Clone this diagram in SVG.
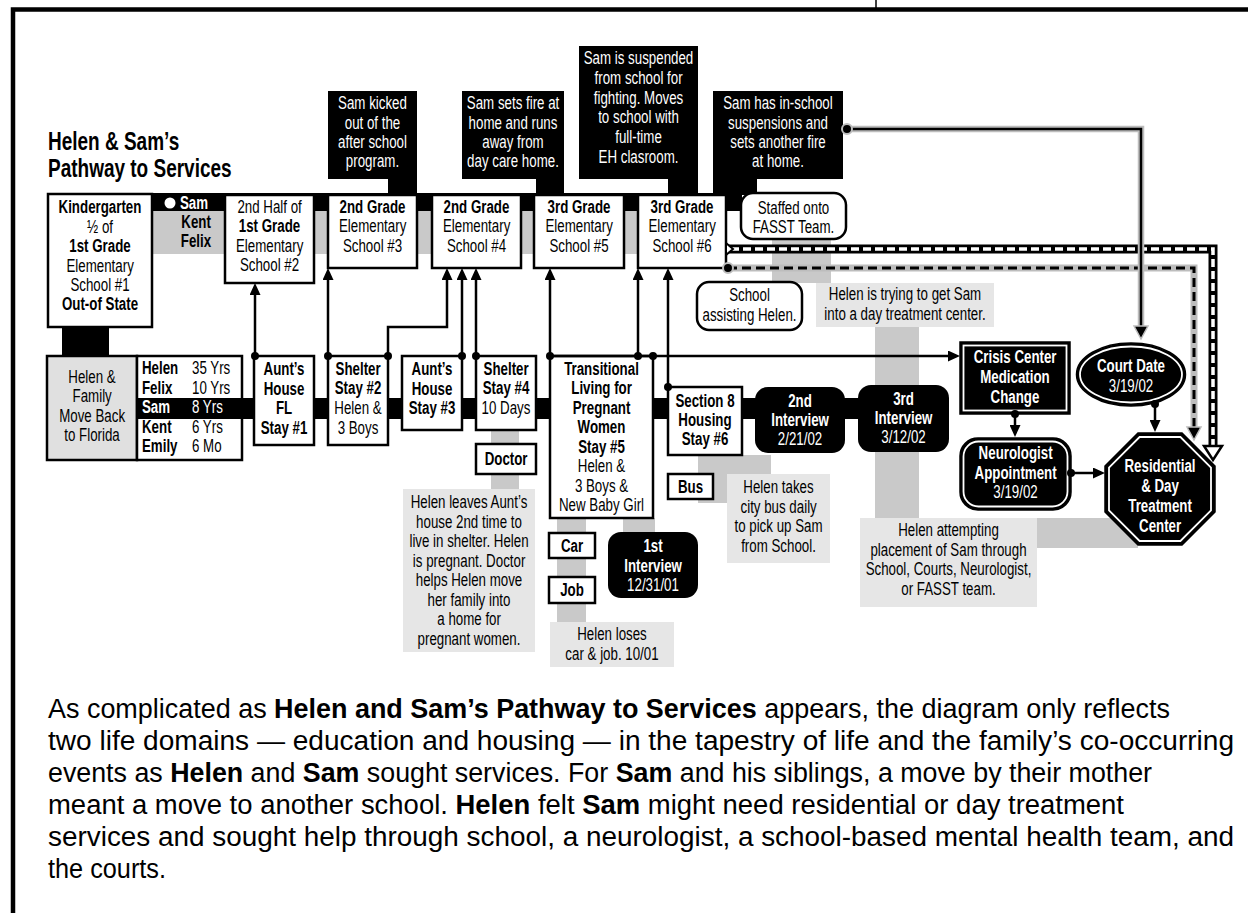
<svg xmlns="http://www.w3.org/2000/svg" width="1248" height="913" viewBox="0 0 1248 913">
<defs>
<style>
.bx{fill:#fff;stroke:#000;stroke-width:2.5}
.blk{fill:#000}
.gc{fill:#c9c9c9}
.gl{fill:#e6e6e6}
.ln{fill:none;stroke:#000;stroke-width:2.5}
text{font-family:"Liberation Sans",Arial,sans-serif;font-size:18.5px;text-anchor:middle;fill:#000;transform-box:fill-box;transform-origin:50% 50%;transform:scaleX(.72)}
.b{font-weight:bold}
.w{fill:#fff}
.s{text-anchor:start;transform-origin:0 50%}
.ttl{font-size:25px;font-weight:bold;transform:scaleX(.76)}
.p{font-size:27px;transform:none}
</style>
<marker id="ah" viewBox="0 0 12 11" markerWidth="12" markerHeight="11" refX="8" refY="5.5" orient="auto" markerUnits="userSpaceOnUse"><path d="M0,0 L12,5.5 L0,11 z" fill="#000"/></marker>
</defs>
<rect width="1248" height="913" fill="#fff"/>
<g id="frame">
<path d="M13,913 V9.5 H1248" fill="none" stroke="#000" stroke-width="4.5"/>
<line x1="876" y1="0" x2="876" y2="8" stroke="#000" stroke-width="1.5"/>
</g>
<g id="title">
<text class="ttl s" x="48" y="150">Helen &amp; Sam’s</text>
<text class="ttl s" x="48" y="177">Pathway to Services</text>
</g>
<g id="bands">
<rect class="gc" x="152" y="211" width="486" height="43"/>
<rect class="blk" x="152" y="193" width="590" height="18"/>
<rect class="blk" x="388" y="178" width="29" height="17"/>
<rect class="blk" x="536" y="178" width="28" height="17"/>
<rect class="blk" x="668" y="178" width="30" height="17"/>
<rect class="blk" x="713" y="178" width="44" height="17"/>
<rect class="blk" x="62" y="326" width="47" height="31"/>
<rect class="gc" x="491" y="430" width="28" height="59"/>
<rect class="gc" x="557" y="518" width="29" height="104"/>
<rect class="gc" x="623" y="518" width="32" height="15"/>
<rect class="gc" x="698" y="455" width="73" height="48"/>
<rect class="gc" x="875" y="327" width="44" height="191"/>
<rect class="gc" x="772" y="238" width="59" height="45"/>
<rect class="gc" x="1037" y="518" width="101" height="30"/>
</g>
<g id="sam-kent-felix">
<circle cx="170" cy="203" r="5.5" fill="#fff"/>
<text class="b w s" x="180" y="209">Sam</text>
<text class="b" x="196" y="228">Kent</text>
<text class="b" x="196" y="247">Felix</text>
</g>
<g id="event-kicked">
<rect class="blk" x="328" y="91" width="89" height="88"/>
<text class="w" x="372.5" y="109">Sam kicked</text>
<text class="w" x="372.5" y="129">out of the</text>
<text class="w" x="372.5" y="148">after school</text>
<text class="w" x="372.5" y="167">program.</text>
</g>
<g id="event-fire">
<rect class="blk" x="462" y="91" width="102" height="88"/>
<text class="w" x="513" y="109">Sam sets fire at</text>
<text class="w" x="513" y="129">home and runs</text>
<text class="w" x="513" y="148">away from</text>
<text class="w" x="513" y="167">day care home.</text>
</g>
<g id="event-suspended">
<rect class="blk" x="579" y="46" width="119" height="133"/>
<text class="w" x="638.5" y="64">Sam is suspended</text>
<text class="w" x="638.5" y="84">from school for</text>
<text class="w" x="638.5" y="104">fighting. Moves</text>
<text class="w" x="638.5" y="123">to school with</text>
<text class="w" x="638.5" y="143">full-time</text>
<text class="w" x="638.5" y="163">EH clasroom.</text>
</g>
<g id="event-inschool">
<rect class="blk" x="713" y="91" width="130" height="88"/>
<text class="w" x="778" y="109">Sam has in-school</text>
<text class="w" x="778" y="129">suspensions and</text>
<text class="w" x="778" y="148">sets another fire</text>
<text class="w" x="778" y="167">at home.</text>
</g>
<g id="school-k">
<rect class="bx" x="48" y="194" width="104" height="133"/>
<text class="b" x="100" y="213">Kindergarten</text>
<text x="100" y="233">½ of</text>
<text class="b" x="100" y="252">1st Grade</text>
<text x="100" y="272">Elementary</text>
<text x="100" y="291">School #1</text>
<text class="b" x="100" y="310">Out-of State</text>
</g>
<g id="school-2">
<rect class="bx" x="225" y="195" width="89" height="88"/>
<text x="269.5" y="213">2nd Half of</text>
<text class="b" x="269.5" y="232">1st Grade</text>
<text x="269.5" y="252">Elementary</text>
<text x="269.5" y="271">School #2</text>
</g>
<g id="school-3">
<rect class="bx" x="328" y="195" width="89" height="73"/>
<text class="b" x="372.5" y="213">2nd Grade</text>
<text x="372.5" y="232">Elementary</text>
<text x="372.5" y="252">School #3</text>
</g>
<g id="school-4">
<rect class="bx" x="432" y="195" width="89" height="73"/>
<text class="b" x="476.5" y="213">2nd Grade</text>
<text x="476.5" y="232">Elementary</text>
<text x="476.5" y="252">School #4</text>
</g>
<g id="school-5">
<rect class="bx" x="534" y="195" width="90" height="73"/>
<text class="b" x="579" y="213">3rd Grade</text>
<text x="579" y="232">Elementary</text>
<text x="579" y="252">School #5</text>
</g>
<g id="school-6">
<rect class="bx" x="638" y="195" width="88" height="73"/>
<text class="b" x="682" y="213">3rd Grade</text>
<text x="682" y="232">Elementary</text>
<text x="682" y="252">School #6</text>
</g>
<g id="staffed">
<rect class="bx" x="741" y="193" width="105" height="46" rx="12"/>
<text x="793.5" y="214">Staffed onto</text>
<text x="793.5" y="233">FASST Team.</text>
</g>
<g id="school-assisting">
<rect class="bx" x="697" y="282" width="105" height="48" rx="12"/>
<text x="749.5" y="301">School</text>
<text x="749.5" y="321">assisting Helen.</text>
</g>
<g id="note-trying">
<rect class="gl" x="816" y="283" width="178" height="44"/>
<text x="905" y="300">Helen is trying to get Sam</text>
<text x="905" y="320">into a day treatment center.</text>
</g>
<g id="family">
<rect x="47" y="356" width="90" height="104" fill="#e0e0e0" stroke="#000" stroke-width="2.5"/>
<text x="92" y="383">Helen &amp;</text>
<text x="92" y="402">Family</text>
<text x="92" y="422">Move Back</text>
<text x="92" y="441">to Florida</text>
</g>
<g id="members">
<rect class="bx" x="137" y="356" width="105" height="104"/>
</g>
<rect id="housing-band" class="blk" x="137" y="398" width="723" height="21"/>
<g id="members-text">
<text class="b s" x="142" y="374">Helen</text><text class="s" x="192" y="374">35 Yrs</text>
<text class="b s" x="142" y="394">Felix</text><text class="s" x="192" y="394">10 Yrs</text>
<text class="b s w" x="142" y="413">Sam</text><text class="s w" x="192" y="413">8 Yrs</text>
<text class="b s" x="142" y="433">Kent</text><text class="s" x="192" y="433">6 Yrs</text>
<text class="b s" x="142" y="452">Emily</text><text class="s" x="192" y="452">6 Mo</text>
</g>
<g id="stay-1">
<rect class="bx" x="254" y="356" width="60" height="89"/>
<text class="b" x="284" y="375">Aunt’s</text>
<text class="b" x="284" y="395">House</text>
<text class="b" x="284" y="414">FL</text>
<text class="b" x="284" y="434">Stay #1</text>
</g>
<g id="stay-2">
<rect class="bx" x="328" y="356" width="60" height="89"/>
<text class="b" x="358" y="375">Shelter</text>
<text class="b" x="358" y="394">Stay #2</text>
<text x="358" y="414">Helen &amp;</text>
<text x="358" y="434">3 Boys</text>
</g>
<g id="stay-3">
<rect class="bx" x="402" y="356" width="60" height="74"/>
<text class="b" x="432" y="375">Aunt’s</text>
<text class="b" x="432" y="395">House</text>
<text class="b" x="432" y="414">Stay #3</text>
</g>
<g id="stay-4">
<rect class="bx" x="476" y="356" width="60" height="74"/>
<text class="b" x="506" y="375">Shelter</text>
<text class="b" x="506" y="394">Stay #4</text>
<text x="506" y="414">10 Days</text>
</g>
<g id="stay-5">
<rect class="bx" x="550" y="356" width="103" height="162"/>
<text class="b" x="601.5" y="375">Transitional</text>
<text class="b" x="601.5" y="394">Living for</text>
<text class="b" x="601.5" y="414">Pregnant</text>
<text class="b" x="601.5" y="433">Women</text>
<text class="b" x="601.5" y="453">Stay #5</text>
<text x="601.5" y="472">Helen &amp;</text>
<text x="601.5" y="492">3 Boys &amp;</text>
<text x="601.5" y="511">New Baby Girl</text>
</g>
<g id="stay-6">
<rect class="bx" x="668" y="387" width="74" height="68"/>
<text class="b" x="705" y="407">Section 8</text>
<text class="b" x="705" y="426">Housing</text>
<text class="b" x="705" y="445">Stay #6</text>
</g>
<g id="interview-2">
<rect class="blk" x="755" y="387" width="90" height="66" rx="13"/>
<text class="b w" x="800" y="407">2nd</text>
<text class="b w" x="800" y="426">Interview</text>
<text class="w" x="800" y="445">2/21/02</text>
</g>
<g id="interview-3">
<rect class="blk" x="858" y="385" width="91" height="67" rx="13"/>
<text class="b w" x="903.5" y="405">3rd</text>
<text class="b w" x="903.5" y="424">Interview</text>
<text class="w" x="903.5" y="443">3/12/02</text>
</g>
<g id="interview-1">
<rect class="blk" x="608" y="532" width="90" height="66" rx="13"/>
<text class="b w" x="653" y="552">1st</text>
<text class="b w" x="653" y="572">Interview</text>
<text class="w" x="653" y="591">12/31/01</text>
</g>
<g id="doctor">
<rect class="bx" x="476" y="444" width="60" height="30"/>
<text class="b" x="506" y="465">Doctor</text>
</g>
<g id="car">
<rect class="bx" x="549" y="533" width="46" height="25"/>
<text class="b" x="572" y="552">Car</text>
</g>
<g id="job">
<rect class="bx" x="549" y="577" width="46" height="26"/>
<text class="b" x="572" y="596">Job</text>
</g>
<g id="bus">
<rect class="bx" x="668" y="474" width="45" height="25"/>
<text class="b" x="690.5" y="493">Bus</text>
</g>
<g id="note-leaves">
<rect class="gl" x="403" y="489" width="132" height="163"/>
<text x="469" y="508">Helen leaves Aunt’s</text>
<text x="469" y="528">house 2nd time to</text>
<text x="469" y="547">live in shelter. Helen</text>
<text x="469" y="567">is pregnant. Doctor</text>
<text x="469" y="586">helps Helen move</text>
<text x="469" y="606">her family into</text>
<text x="469" y="625">a home for</text>
<text x="469" y="645">pregnant women.</text>
</g>
<g id="note-loses">
<rect class="gl" x="550" y="622" width="124" height="45"/>
<text x="612" y="640">Helen loses</text>
<text x="612" y="660">car &amp; job. 10/01</text>
</g>
<g id="note-bus">
<rect class="gl" x="727" y="474" width="103" height="89"/>
<text x="778.5" y="493">Helen takes</text>
<text x="778.5" y="513">city bus daily</text>
<text x="778.5" y="532">to pick up Sam</text>
<text x="778.5" y="552">from School.</text>
</g>
<g id="note-attempting">
<rect class="gl" x="860" y="518" width="177" height="89"/>
<text x="948.5" y="536">Helen attempting</text>
<text x="948.5" y="556">placement of Sam through</text>
<text x="948.5" y="575">School, Courts, Neurologist,</text>
<text x="948.5" y="595">or FASST team.</text>
</g>
<g id="crisis">
<rect x="960" y="342" width="110" height="72" fill="#000" stroke="#000" stroke-width="1.5"/>
<rect x="963.5" y="345.5" width="103" height="65" fill="none" stroke="#fff" stroke-width="1.8"/>
<text class="b w" x="1015" y="363">Crisis Center</text>
<text class="b w" x="1015" y="383">Medication</text>
<text class="b w" x="1015" y="403">Change</text>
</g>
<g id="neurologist">
<rect x="960" y="438" width="111" height="72" rx="18" fill="#000" stroke="#000" stroke-width="1.5"/>
<rect x="963.5" y="441.5" width="104" height="65" rx="15" fill="none" stroke="#fff" stroke-width="1.8"/>
<text class="b w" x="1015.5" y="459">Neurologist</text>
<text class="b w" x="1015.5" y="479">Appointment</text>
<text class="w" x="1015.5" y="498">3/19/02</text>
</g>
<g id="court">
<ellipse cx="1131" cy="374.5" rx="54.5" ry="31.5" fill="#000" stroke="#000" stroke-width="1.5"/>
<ellipse cx="1131" cy="374.5" rx="51" ry="28" fill="none" stroke="#fff" stroke-width="1.8"/>
<text class="b w" x="1131" y="372">Court Date</text>
<text class="w" x="1131" y="392">3/19/02</text>
</g>
<g id="treatment-center">
<polygon points="1138,433 1182,433 1215,466 1215,512 1182,545 1138,545 1105,512 1105,466" fill="#000" stroke="#000" stroke-width="1.5"/>
<polygon points="1139.6,437 1180.4,437 1211,467.6 1211,510.4 1180.4,541 1139.6,541 1109,510.4 1109,467.6" fill="none" stroke="#fff" stroke-width="1.8"/>
<text class="b w" x="1160" y="472">Residential</text>
<text class="b w" x="1160" y="492">&amp; Day</text>
<text class="b w" x="1160" y="512">Treatment</text>
<text class="b w" x="1160" y="532">Center</text>
</g>
<g id="connectors">
<path class="ln" d="M255,356 V287" marker-end="url(#ah)"/>
<path class="ln" d="M328,356 V272" marker-end="url(#ah)"/>
<path class="ln" d="M388,356 V327 H447 V272" marker-end="url(#ah)"/>
<path class="ln" d="M462,356 V272" marker-end="url(#ah)"/>
<path class="ln" d="M476,356 V272" marker-end="url(#ah)"/>
<path class="ln" d="M550,356 V272" marker-end="url(#ah)"/>
<path class="ln" d="M638,356 V272" marker-end="url(#ah)"/>
<path class="ln" d="M668,387 V272" marker-end="url(#ah)"/>
<path class="ln" d="M550,356 H956" marker-end="url(#ah)"/>
<path class="ln" d="M1015,414 V433" marker-end="url(#ah)"/>
<path class="ln" d="M1071,473 H1101" marker-end="url(#ah)"/>
<path class="ln" d="M1155,404 V428" marker-end="url(#ah)"/>
<g fill="#000">
<circle cx="255" cy="356" r="4"/><circle cx="328" cy="356" r="4"/><circle cx="388" cy="356" r="4"/>
<circle cx="462" cy="356" r="4"/><circle cx="476" cy="356" r="4"/><circle cx="550" cy="356" r="4"/>
<circle cx="638" cy="356" r="4"/><circle cx="653" cy="356" r="4"/><circle cx="668" cy="387" r="4"/>
<circle cx="1015" cy="414" r="4"/><circle cx="1071" cy="473" r="4"/><circle cx="1155" cy="404" r="4"/>
</g>
<path d="M727,249 H1213 V446" fill="none" stroke="#000" stroke-width="9"/>
<path d="M731,249 H1213 V446" fill="none" stroke="#fff" stroke-width="3.5" stroke-dasharray="8 4"/>
<polygon points="726,243 733,249 726,255" fill="#fff" stroke="#000" stroke-width="2"/>
<polygon points="1204,446 1222,446 1213,460" fill="#fff" stroke="#000" stroke-width="2.5" stroke-linejoin="miter"/>
<path d="M728,268 H1194 V428" fill="none" stroke="#bdbdbd" stroke-width="7"/>
<path d="M728,268 H1194 V428" fill="none" stroke="#000" stroke-width="3" stroke-dasharray="9 5"/>
<polygon points="1187,427 1201,427 1194,440" fill="#000" stroke="#bdbdbd" stroke-width="1.5"/>
<circle cx="728" cy="268" r="5" fill="#000" stroke="#bdbdbd" stroke-width="2"/>
<path d="M847,129 H1141 V327" fill="none" stroke="#bdbdbd" stroke-width="6.5"/>
<path d="M847,129 H1141 V328" fill="none" stroke="#000" stroke-width="2.5"/>
<polygon points="1134,326 1148,326 1141,339" fill="#000" stroke="#bdbdbd" stroke-width="1.5"/>
<circle cx="847" cy="129" r="5" fill="#000" stroke="#bdbdbd" stroke-width="2"/>
</g>
<g id="caption">
<text class="s p" x="48" y="718" textLength="1122" lengthAdjust="spacingAndGlyphs">As complicated as <tspan class="b">Helen and Sam’s Pathway to Services</tspan> appears, the diagram only reflects</text>
<text class="s p" x="48" y="750" textLength="1186" lengthAdjust="spacingAndGlyphs">two life domains — education and housing — in the tapestry of life and the family’s co-occurring</text>
<text class="s p" x="48" y="782" textLength="1104" lengthAdjust="spacingAndGlyphs">events as <tspan class="b">Helen</tspan> and <tspan class="b">Sam</tspan> sought services. For <tspan class="b">Sam</tspan> and his siblings, a move by their mother</text>
<text class="s p" x="48" y="814" textLength="1076" lengthAdjust="spacingAndGlyphs">meant a move to another school. <tspan class="b">Helen</tspan> felt <tspan class="b">Sam</tspan> might need residential or day treatment</text>
<text class="s p" x="48" y="846" textLength="1186" lengthAdjust="spacingAndGlyphs">services and sought help through school, a neurologist, a school-based mental health team, and</text>
<text class="s p" x="48" y="878" textLength="118" lengthAdjust="spacingAndGlyphs">the courts.</text>
</g>
</svg>
